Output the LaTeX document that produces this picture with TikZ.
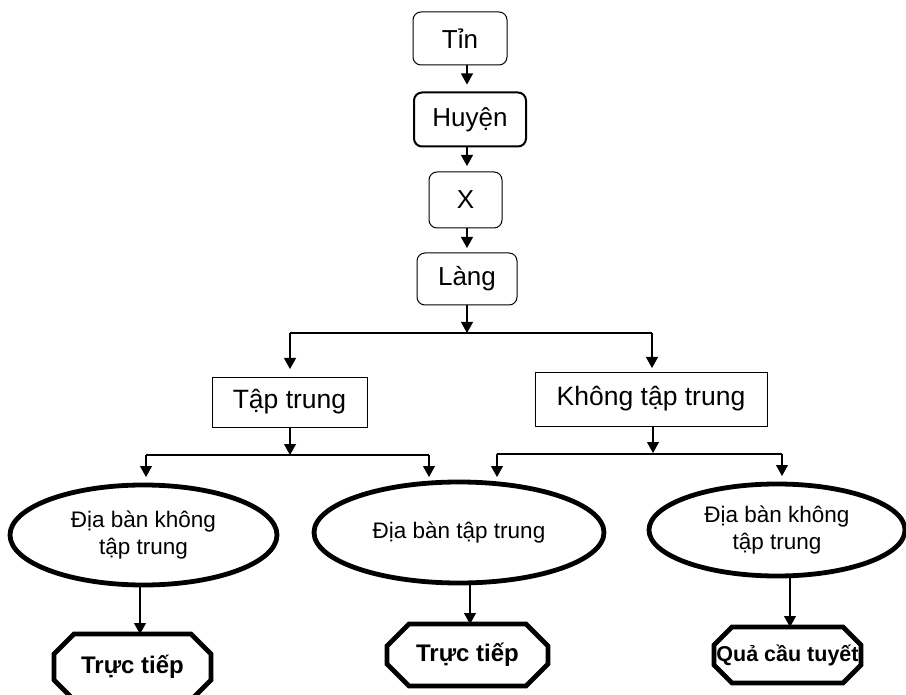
\documentclass[tikz,border=0pt]{standalone}
\usepackage{fontspec}
\setmainfont{Liberation Sans}
\usetikzlibrary{arrows.meta,shapes.geometric}
\newcommand\octapath[2]{%
  \draw[octoline] ([xshift=#2]#1.north west) -- ([xshift=-#2]#1.north east)
    -- ([yshift=-#2]#1.north east) -- ([yshift=#2]#1.south east)
    -- ([xshift=-#2]#1.south east) -- ([xshift=#2]#1.south west)
    -- ([yshift=#2]#1.south west) -- ([yshift=-#2]#1.north west) -- cycle;}
\begin{document}
\begin{tikzpicture}[x=1pt,y=-1pt,
  topbox/.style={draw,rounded corners=8pt,line width=1pt,inner sep=0pt,outer sep=0pt,
    font=\fontsize{26}{30}\selectfont},
  midbox/.style={draw,line width=0.9pt,inner sep=0pt,outer sep=0pt,
    font=\fontsize{26.5}{30}\selectfont},
  ellbox/.style={draw,ellipse,line width=4.8pt,inner sep=0pt,outer sep=0pt,align=center,
    font=\fontsize{22.5}{27.5}\selectfont},
  octbox/.style={inner sep=0pt,outer sep=0pt,font=\bfseries\fontsize{24}{28}\selectfont},
  octoline/.style={line width=4.8pt,line join=miter},
  arr/.style={line width=1.1pt,-{Triangle[width=12pt,length=11pt]}},
  plain/.style={line width=1.1pt},
]
\useasboundingbox[fill=white] (0,0) rectangle (906,695);

% top column
\node[topbox,minimum width=94pt,minimum height=53pt] (tin) at (460,38.5) {Tỉn};
\node[topbox,line width=2pt,minimum width=112pt,minimum height=54pt] (huyen) at (470,119.5) {Huyện};
\node[topbox,minimum width=73pt,minimum height=56pt] (xa) at (465.5,200) {X};
\node[topbox,minimum width=100pt,minimum height=52pt] (lang) at (467,279) {Làng};

\coordinate (colx) at (467,0);
\draw[arr,shorten >=8pt] (tin.south -| colx) -- (huyen.north -| colx);
\draw[arr,shorten >=6pt] (huyen.south -| colx) -- (xa.north -| colx);
\draw[arr,shorten >=5pt] (xa.south -| colx) -- (lang.north -| colx);

% second level
\node[midbox,minimum width=155pt,minimum height=50pt] (tap) at (289.5,402) {Tập trung};
\node[midbox,minimum width=232pt,minimum height=54pt] (khong) at (651,399) {Không tập trung};

\coordinate (br1) at (467,333);
\coordinate (br1l) at (290,333);
\coordinate (br1r) at (652,333);
\draw[arr] (lang.south -| br1) -- (br1);
\draw[plain] (br1l) -- (br1r);
\draw[arr,shorten >=8pt] (br1l) -- (tap.north -| br1l);
\draw[arr,shorten >=4pt] (br1r) -- (khong.north -| br1r);

% third level
\node[ellbox,minimum width=267pt,minimum height=100pt] (e1) at (143.5,535) {Địa bàn không\\tập trung};
\node[ellbox,minimum width=290pt,minimum height=101pt] (e2) at (459,532.5) {Địa bàn tập trung};
\node[ellbox,minimum width=256pt,minimum height=92pt] (e3) at (777,530) {Địa bàn không\\tập trung};

\coordinate (br2) at (290,455);
\coordinate (br2l) at (146,455);
\coordinate (br2r) at (429,455);
\draw[arr] (tap.south -| br2) -- (br2);
\draw[plain] (br2l) -- (br2r);
\draw[arr,shorten >=8pt] (br2l) -- (e1.north -| br2l);
\draw[arr,shorten >=5pt] (br2r) -- (e2.north -| br2r);

\coordinate (br3) at (653,453);
\coordinate (br3l) at (497,454);
\coordinate (br3r) at (782,454);
\draw[arr] (khong.south -| br3) -- (br3);
\draw[line width=2.2pt] (br3l) -- (br3r);
\draw[arr,shorten >=5pt] (br3l) -- (e2.north -| br3l);
\draw[arr,shorten >=8pt] (br3r) -- (e3.north -| br3r);

% bottom level
\node[octbox,minimum width=157pt,minimum height=66pt] (o1) at (132.5,667) {Trực tiếp};
\node[octbox,minimum width=161pt,minimum height=62pt] (o2) at (467.5,655) {Trực tiếp};
\node[octbox,font=\bfseries\fontsize{21.5}{25}\selectfont,minimum width=147pt,minimum height=56pt] (o3) at (787.5,655) {Quả cầu tuyết};
\octapath{o1}{20pt}
\octapath{o2}{22pt}
\octapath{o3}{18pt}

\draw[arr] ([xshift=-3.5pt]e1.south) -- ([xshift=7.5pt]o1.north);
\draw[arr] ([xshift=11pt]e2.south) -- ([xshift=2.5pt]o2.north);
\draw[arr] ([xshift=13pt]e3.south) -- ([xshift=2.5pt]o3.north);
\end{tikzpicture}
\end{document}
